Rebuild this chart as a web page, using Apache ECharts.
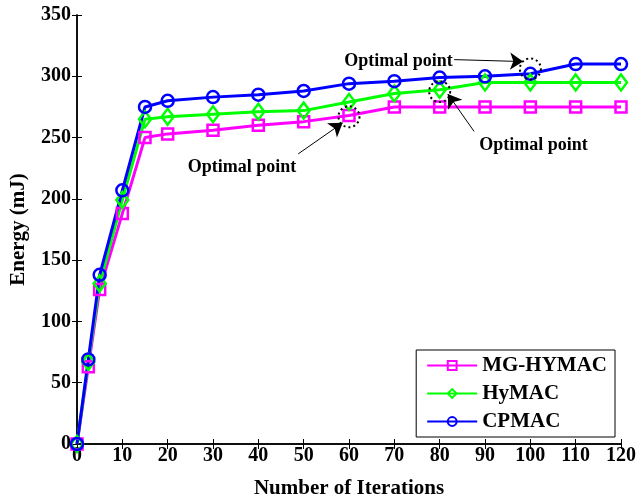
<!DOCTYPE html>
<html>
<head>
<meta charset="utf-8">
<script src="https://cdn.jsdelivr.net/npm/echarts@6/dist/echarts.min.js"></script>
<style>
  html, body { margin: 0; padding: 0; background: #fff; }
  #chart { width: 639px; height: 497px; }
</style>
</head>
<body>
<div id="chart"></div>
<script>
// iterations (x) and energy values (mJ)
const iterations = [0, 2.5, 5, 10, 15, 20, 30, 40, 50, 60, 70, 80, 90, 100, 110, 120];
const mgHymac = [0, 63, 126, 188, 250, 253, 256, 260, 263, 268, 275, 275, 275, 275, 275, 275];
const hymac = [0, 67, 131, 199, 265, 267, 269, 271, 272, 279, 286, 289, 295, 295, 295, 295];
const cpmac = [0, 69, 138, 207, 275, 280, 283, 285, 288, 294, 296, 299, 300, 302, 310, 310];

// "Optimal point" annotations: circled point, label position, arrow start/end (data coords)
const optCircles = [[60, 267], [80, 287.5], [100, 306]];
const optLabels = [[36.4, 226], [100.7, 244], [70.9, 312.5]];
const optArrows = [
  [[48.8, 236.7], [58.6, 262]],
  [[87.6, 255], [81.8, 285.5]],
  [[83.2, 313.6], [98.4, 312]]
];

const font = 'Liberation Serif';

const pairs = (ys) => iterations.map((x, i) => [x, ys[i]]);

const mkSeries = (name, ys, color, symbol, size) => ({
  name: name,
  type: 'line',
  data: pairs(ys),
  symbol: symbol,
  symbolSize: size,
  showAllSymbol: true,
  lineStyle: { color: color, width: 3 },
  itemStyle: { color: 'rgba(0,0,0,0)', borderColor: color, borderWidth: 2.5 },
  emphasis: { disabled: true },
  z: 3
});

const chart = echarts.init(document.getElementById('chart'));
chart.setOption({
  animation: false,
  backgroundColor: '#fff',
  textStyle: { fontFamily: font },
  grid: { left: 77, right: 18, top: 15, bottom: 53, outerBoundsMode: 'none', containLabel: false },
  legend: {
    data: ['MG-HYMAC', 'HyMAC', 'CPMAC'],
    orient: 'vertical',
    right: 24,
    bottom: 60,
    itemWidth: 50,
    itemHeight: 11,
    itemGap: 7,
    padding: [5, 8, 5, 10],
    borderColor: '#000',
    borderWidth: 1,
    backgroundColor: '#fff',
    textStyle: { fontFamily: font, fontWeight: 'bold', fontSize: 21, lineHeight: 21, color: '#000' }
  },
  xAxis: [{
    type: 'value',
    min: 0, max: 120, interval: 10,
    name: 'Number of Iterations',
    nameLocation: 'middle',
    nameGap: 34,
    nameTextStyle: { fontFamily: font, fontWeight: 'bold', fontSize: 21, color: '#000' },
    axisLine: { lineStyle: { color: '#000', width: 1.5 } },
    axisTick: { inside: true, length: 5, lineStyle: { color: '#000' } },
    axisLabel: { fontFamily: font, fontWeight: 'bold', fontSize: 20, color: '#000', margin: 2 },
    splitLine: { show: false }
  }, {
    type: 'value',
    position: 'top',
    min: 0, max: 120, interval: 10,
    axisLine: { lineStyle: { color: '#000', width: 1.5 } },
    axisTick: { inside: true, length: 5, lineStyle: { color: '#000' } },
    axisLabel: { show: false },
    splitLine: { show: false }
  }],
  yAxis: [{
    type: 'value',
    min: 0, max: 350, interval: 50,
    name: 'Energy (mJ)',
    nameLocation: 'middle',
    nameGap: 48,
    nameTextStyle: { fontFamily: font, fontWeight: 'bold', fontSize: 21, color: '#000' },
    axisLine: { show: true, lineStyle: { color: '#000', width: 1.5 } },
    axisTick: { show: true, inside: true, length: 5, lineStyle: { color: '#000' } },
    axisLabel: { fontFamily: font, fontWeight: 'bold', fontSize: 20, color: '#000', margin: 6 },
    splitLine: { show: false }
  }, {
    type: 'value',
    position: 'right',
    min: 0, max: 350, interval: 50,
    axisLine: { show: true, lineStyle: { color: '#000', width: 1.5 } },
    axisTick: { show: true, inside: true, length: 5, lineStyle: { color: '#000' } },
    axisLabel: { show: false },
    splitLine: { show: false }
  }],
  series: [
    mkSeries('MG-HYMAC', mgHymac, '#ff00ff', 'rect', 11),
    mkSeries('HyMAC', hymac, '#00ff00', 'diamond', [12, 16]),
    mkSeries('CPMAC', cpmac, '#0000ff', 'circle', 12),
    {
      // annotation layer: dotted circles, arrows and labels
      name: 'annot',
      type: 'scatter',
      data: [],
      silent: true,
      z: 5,
      markPoint: {
        silent: true,
        animation: false,
        data: optCircles.map(c => ({
          coord: c,
          symbol: 'circle',
          symbolSize: 21,
          itemStyle: { color: 'rgba(0,0,0,0)', borderColor: '#000', borderWidth: 2, borderType: [2, 3] },
          label: { show: false }
        })).concat(optLabels.map(c => ({
          coord: c,
          symbol: 'circle',
          symbolSize: 1,
          itemStyle: { color: 'rgba(0,0,0,0)' },
          label: {
            show: true, position: 'inside', formatter: 'Optimal point',
            fontFamily: font, fontWeight: 'bold', fontSize: 18, color: '#000'
          }
        })))
      },
      markLine: {
        silent: true,
        animation: false,
        symbol: ['none', 'arrow'],
        symbolSize: 13,
        label: { show: false },
        lineStyle: { color: '#000', width: 1, type: 'solid' },
        itemStyle: { color: '#000' },
        data: optArrows.map(a => [{ coord: a[0] }, { coord: a[1] }])
      }
    }
  ]
});
</script>
</body>
</html>
